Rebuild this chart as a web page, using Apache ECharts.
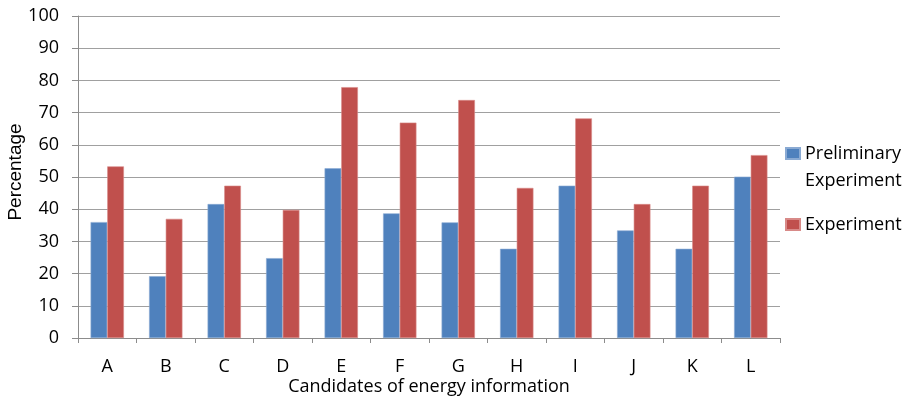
<!DOCTYPE html>
<html>
<head>
<meta charset="utf-8">
<script src="https://cdn.jsdelivr.net/npm/echarts@6/dist/echarts.min.js"></script>
<style>
html,body{margin:0;padding:0;background:#fff;}
#c{width:910px;height:399px;}
</style>
</head>
<body>
<div id="c"></div>
<script>
var categories = ['A','B','C','D','E','F','G','H','I','J','K','L'];
var preliminary = [36, 19.2, 41.6, 24.8, 52.7, 38.7, 35.9, 27.7, 47.3, 33.4, 27.7, 50.1];
var experiment = [53.3, 37, 47.3, 39.8, 77.9, 66.9, 73.9, 46.6, 68.2, 41.6, 47.3, 56.8];
var yTicks = [0, 10, 20, 30, 40, 50, 60, 70, 80, 90, 100];

var FONT = 'Open Sans';
var chart = echarts.init(document.getElementById('c'));
chart.setOption({
  animation: false,
  backgroundColor: '#fff',
  grid: {left: 78, right: 130, top: 16, bottom: 61, containLabel: false, outerBoundsMode: 'none'},
  legend: [{
    orient: 'vertical', left: 785, top: 113, padding: 0,
    itemWidth: 14, itemHeight: 11, itemGap: 5, icon: 'rect',
    data: [{name: 'Preliminary Experiment'}],
    formatter: function (n) { return ' \nPreliminary\nExperiment'; },
    textStyle: {fontFamily: FONT, fontSize: 18, color: '#000', lineHeight: 27}
  }, {
    orient: 'vertical', left: 785, top: 211, padding: 0,
    itemWidth: 14, itemHeight: 11, itemGap: 5, icon: 'rect',
    data: [{name: 'Experiment'}],
    textStyle: {fontFamily: FONT, fontSize: 18, color: '#000', lineHeight: 27}
  }],
  xAxis: {
    type: 'category',
    data: categories,
    name: 'Candidates of energy information',
    nameLocation: 'middle',
    nameGap: 40,
    nameMoveOverlap: false,
    nameTextStyle: {fontFamily: FONT, fontSize: 18, color: '#000'},
    axisLine: {lineStyle: {color: '#8c8c8c', width: 1}},
    axisTick: {show: true, length: 5, lineStyle: {color: '#8c8c8c'}},
    axisLabel: {fontFamily: FONT, fontSize: 18, color: '#000', margin: 20}
  },
  yAxis: {
    type: 'value',
    min: 0, max: 100, interval: 10,
    name: 'Percentage',
    nameLocation: 'middle',
    nameRotate: 90,
    nameGap: 53,
    nameMoveOverlap: false,
    nameTextStyle: {fontFamily: 'Liberation Sans', fontSize: 19, color: '#000', padding: [0, 0, 0, 10]},
    axisLine: {show: true, lineStyle: {color: '#8c8c8c', width: 1}},
    axisTick: {show: true, length: 6, lineStyle: {color: '#8c8c8c'}},
    axisLabel: {fontFamily: FONT, fontSize: 18, color: '#000', margin: 19,
      formatter: function (v) { return yTicks.indexOf(v) >= 0 ? String(v) : ''; }},
    splitLine: {show: true, lineStyle: {color: '#a0a0a0', width: 1}}
  },
  series: [{
    name: 'Preliminary Experiment',
    type: 'bar',
    data: preliminary,
    barGap: '0%',
    barCategoryGap: '43%',
    itemStyle: {color: '#4F81BD', borderColor: '#8aaad3', borderWidth: 0.6}
  }, {
    name: 'Experiment',
    type: 'bar',
    data: experiment,
    barGap: '0%',
    barCategoryGap: '43%',
    itemStyle: {color: '#C0504D', borderColor: '#d88a88', borderWidth: 0.6}
  }]
});
</script>
</body>
</html>
